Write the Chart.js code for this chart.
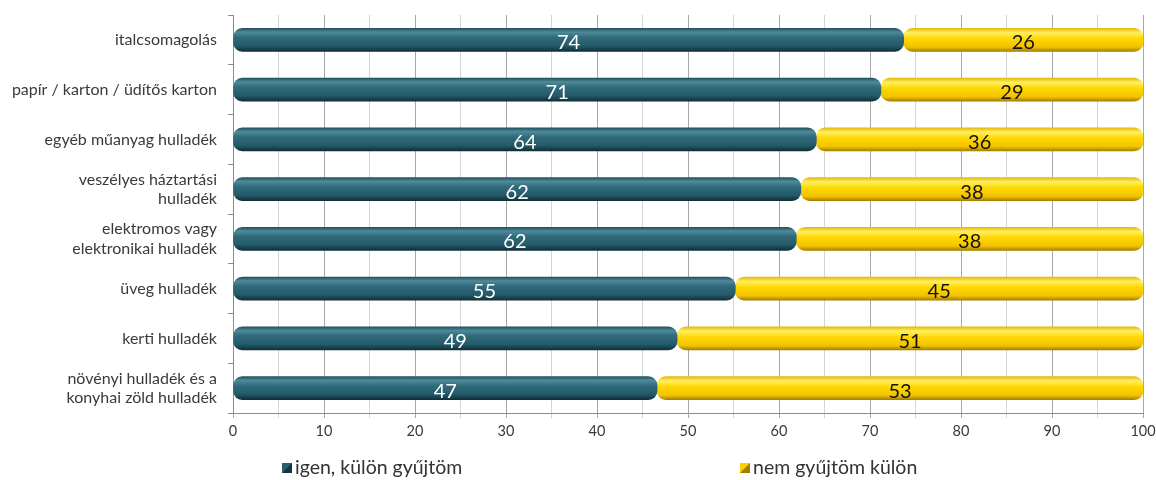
<!DOCTYPE html>
<html>
<head>
<meta charset="utf-8">
<script src="https://cdn.jsdelivr.net/npm/chart.js@4"></script>
<style>
  html, body { margin: 0; padding: 0; background: #fff; }
  #wrap { width: 1156px; height: 480px; }
</style>
</head>
<body>
<div id="wrap"><canvas id="chart" width="1156" height="480"></canvas></div>
<script>
// categories top to bottom
const categories = [
  'italcsomagolás',
  'papír / karton / üdítős karton',
  'egyéb műanyag hulladék',
  ['veszélyes háztartási', 'hulladék'],
  ['elektromos vagy', 'elektronikai hulladék'],
  'üveg hulladék',
  'kerti hulladék',
  ['növényi hulladék és a', 'konyhai zöld hulladék']
];
const igen = [73.7, 71.2, 64.1, 62.4, 61.9, 55.2, 48.8, 46.6];
const nem = [26.3, 28.8, 35.9, 37.6, 38.1, 44.8, 51.2, 53.4];
const seriesNames = ['igen, külön gyűjtöm', 'nem gyűjtöm külön'];

const FONT = 'Lato, "Open Sans", sans-serif';
const TEXT = '#3a3a3a';

function barGradient(ctx, stops) {
  const chart = ctx.chart;
  const y = chart.scales.y;
  if (!y || ctx.dataIndex === undefined) return stops[2][1];
  const c = y.getPixelForValue(ctx.dataIndex);
  if (!isFinite(c)) return stops[2][1];
  const g = chart.ctx.createLinearGradient(0, c - 12, 0, c + 12);
  stops.forEach(s => g.addColorStop(s[0], s[1]));
  return g;
}
const tealStops = [[0, '#1d4b58'], [0.18, '#4f8a9a'], [0.4, '#306b7b'], [0.75, '#245a69'], [1, '#0e2c35']];
const yellowStops = [[0, '#e2b400'], [0.2, '#fff060'], [0.45, '#ffd800'], [0.8, '#f2c200'], [1, '#9c7a00']];

const round = { topLeft: 9, topRight: 9, bottomLeft: 9, bottomRight: 9 };

// value labels in the middle of every segment
const valueLabels = {
  id: 'valueLabels',
  afterDatasetsDraw(chart) {
    const ctx = chart.ctx;
    ctx.save();
    ctx.font = '20px ' + FONT;
    ctx.textAlign = 'center';
    ctx.textBaseline = 'middle';
    chart.data.datasets.forEach((ds, di) => {
      chart.getDatasetMeta(di).data.forEach((bar, i) => {
        const mid = (bar.x + bar.base) / 2;
        ctx.fillStyle = di === 0 ? '#ffffff' : '#111111';
        ctx.fillText(Math.round(ds.data[i]), mid, bar.y + 3);
      });
    });
    ctx.restore();
  }
};

// legend spread along the bottom
const bottomLegend = {
  id: 'bottomLegend',
  afterDraw(chart) {
    const ctx = chart.ctx;
    const left = chart.chartArea.left;
    const xs = [left + 49, left + 507];
    const y = 468;
    ctx.save();
    ctx.font = '19.5px ' + FONT;
    ctx.textBaseline = 'middle';
    seriesNames.forEach((name, i) => {
      const bx = xs[i];
      ctx.fillStyle = i === 0 ? '#2a6170' : '#ffd000';
      ctx.fillRect(bx, y - 5, 10, 10);
      ctx.fillStyle = i === 0 ? '#123540' : '#a07c00';
      ctx.beginPath();
      ctx.moveTo(bx + 10, y - 5);
      ctx.lineTo(bx + 10, y + 5);
      ctx.lineTo(bx, y + 5);
      ctx.closePath();
      ctx.fill();
      ctx.fillStyle = '#333333';
      ctx.fillText(name, bx + 13, y);
    });
    ctx.restore();
  }
};

new Chart(document.getElementById('chart'), {
  type: 'bar',
  data: {
    labels: categories,
    datasets: [{
      label: seriesNames[0],
      data: igen,
      backgroundColor: c => barGradient(c, tealStops),
      borderRadius: round,
      borderSkipped: false,
      barThickness: 23
    }, {
      label: seriesNames[1],
      data: nem,
      backgroundColor: c => barGradient(c, yellowStops),
      borderRadius: round,
      borderSkipped: false,
      barThickness: 23
    }]
  },
  options: {
    indexAxis: 'y',
    responsive: false,
    animation: false,
    layout: { padding: { top: 15, right: 13, left: 0, bottom: 0 } },
    plugins: {
      legend: { display: false },
      tooltip: { enabled: false }
    },
    scales: {
      x: {
        stacked: true,
        min: 0,
        max: 100,
        afterFit: s => { s.height = 67; s.paddingLeft = 0; s.paddingRight = 0; },
        ticks: {
          stepSize: 5,
          autoSkip: false,
          maxRotation: 0,
          padding: 5,
          color: TEXT,
          font: { family: FONT, size: 14.5 },
          callback: v => (v % 10 === 0 ? v : '')
        },
        grid: {
          color: c => (c.tick && c.tick.value % 10 === 0 ? '#a8a8a8' : '#d4d4d4'),
          tickLength: 5
        },
        border: { color: '#8c8c8c' }
      },
      y: {
        stacked: true,
        afterFit: s => { s.width = 233; s.paddingTop = 0; s.paddingBottom = 0; },
        ticks: {
          padding: 11,
          color: TEXT,
          font: { family: FONT, size: 16 },
          autoSkip: false
        },
        grid: { drawOnChartArea: false, tickLength: 5, color: '#8c8c8c' },
        border: { color: '#8c8c8c' }
      }
    }
  },
  plugins: [valueLabels, bottomLegend]
});
</script>
</body>
</html>
